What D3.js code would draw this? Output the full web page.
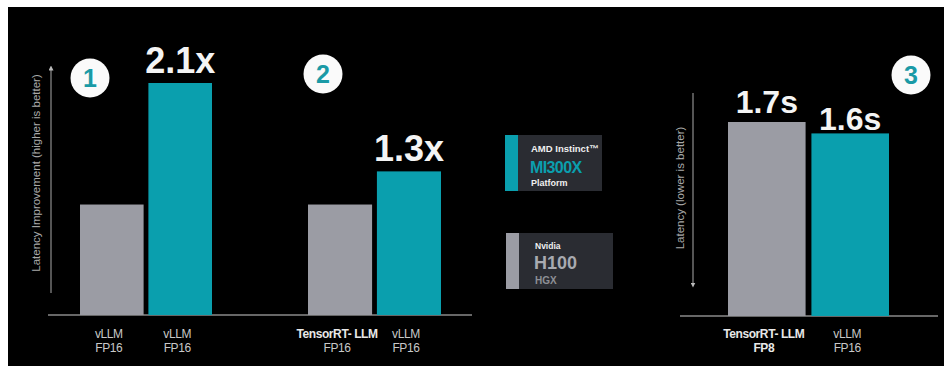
<!DOCTYPE html>
<html>
<head>
<meta charset="utf-8">
<script src="https://cdn.jsdelivr.net/npm/d3@7"></script>
<style>
  body { margin: 0; background: #fff; }
  text { font-family: "Liberation Sans", Arial, sans-serif; }
</style>
</head>
<body>
<div id="chart"></div>
<script>
// values
const p1Names = [["vLLM", "FP16"], ["vLLM", "FP16"]];
const p1Platform = ["H100", "MI300X"];
const p1Values = [1.0, 2.1];
const p1Text = ["", "2.1x"];

const p2Names = [["TensorRT- LLM", "FP16"], ["vLLM", "FP16"]];
const p2Platform = ["H100", "MI300X"];
const p2Values = [1.0, 1.3];
const p2Text = ["", "1.3x"];

const p3Names = [["TensorRT- LLM", "FP8"], ["vLLM", "FP16"]];
const p3Platform = ["H100", "MI300X"];
const p3Values = [1.7, 1.6];
const p3Text = ["1.7s", "1.6s"];

const width = 944, height = 366;
const teal = "#0a9fae", gray = "#9b9ca4", labelCol = "#c8c8c8";

const color = d3.scaleOrdinal().domain(["H100", "MI300X"]).range([gray, teal]);

const svg = d3.select("#chart").append("svg")
    .attr("width", width)
    .attr("height", height);

// black slide area
svg.append("rect")
    .attr("x", 8).attr("y", 7)
    .attr("width", width - 8).attr("height", height - 7)
    .attr("fill", "#000");

// y scales: panels 1 & 2 share one, panel 3 has its own
const yImp = d3.scaleLinear().domain([0, 2.1]).range([315, 83]);
const yLat = d3.scaleLinear().domain([0, 1.7]).range([316, 122]);

const panels = [
  {names: p1Names, plat: p1Platform, vals: p1Values, txt: p1Text, y: yImp, range: [80, 212], bold: [[false, false], [false, false]], dy: [10, 10]},
  {names: p2Names, plat: p2Platform, vals: p2Values, txt: p2Text, y: yImp, range: [308, 441], bold: [[true, false], [false, false]], dy: [10, 10]},
  {names: p3Names, plat: p3Platform, vals: p3Values, txt: p3Text, y: yLat, range: [728, 889], bold: [[true, true], [false, false]], dy: [9, 3]}
];

// baselines
svg.append("line")
    .attr("x1", 48).attr("x2", 472)
    .attr("y1", yImp(0)).attr("y2", yImp(0))
    .attr("stroke", "#8a8a8a").attr("stroke-width", 1.5);
svg.append("line")
    .attr("x1", 680).attr("x2", 938)
    .attr("y1", yLat(0)).attr("y2", yLat(0))
    .attr("stroke", "#8a8a8a").attr("stroke-width", 1.5);

panels.forEach(p => {
  const idx = d3.range(p.vals.length);
  const x = d3.scaleBand().domain(idx).range(p.range).paddingInner(0.07);
  const g = svg.append("g");

  g.selectAll("rect.bar")
    .data(idx)
    .join("rect")
      .attr("class", "bar")
      .attr("x", i => x(i))
      .attr("width", x.bandwidth())
      .attr("y", i => p.y(p.vals[i]))
      .attr("height", i => p.y(0) - p.y(p.vals[i]))
      .attr("fill", i => color(p.plat[i]));

  // value labels on top
  g.selectAll("text.val")
    .data(idx.filter(i => p.txt[i] !== ""))
    .join("text")
      .attr("class", "val")
      .attr("x", i => x(i) + x.bandwidth() / 2)
      .attr("y", i => p.y(p.vals[i]) - p.dy[i])
      .attr("text-anchor", "middle")
      .attr("font-size", p.y === yLat ? 32 : 36)
      .attr("font-weight", "bold")
      .attr("fill", "#f4f4f4")
      .text(i => p.txt[i]);

  // two-line category labels under each bar
  idx.forEach(i => {
    const t = g.append("text")
        .attr("x", x(i) + x.bandwidth() / 2 - 3)
        .attr("text-anchor", "middle")
        .attr("font-size", 12)
        .attr("letter-spacing", -0.4)
        .attr("fill", labelCol);
    p.names[i].forEach((line, k) => {
      t.append("tspan")
        .attr("x", x(i) + x.bandwidth() / 2 - 3)
        .attr("y", 338 + k * 14)
        .attr("font-weight", p.bold[i][k] ? "bold" : "normal")
        .attr("fill", p.bold[i][k] ? "#e8e8e8" : labelCol)
        .text(line);
    });
  });
});

// axis arrows
const defs = svg.append("defs");
defs.append("marker")
    .attr("id", "arr")
    .attr("viewBox", "0 0 10 10")
    .attr("refX", 5).attr("refY", 5)
    .attr("markerWidth", 5).attr("markerHeight", 5)
    .attr("orient", "auto-start-reverse")
  .append("path")
    .attr("d", "M0,0 L10,5 L0,10 z")
    .attr("fill", "#bbb");

svg.append("line")
    .attr("x1", 51).attr("x2", 51)
    .attr("y1", 293).attr("y2", 68)
    .attr("stroke", "#aaa").attr("stroke-width", 1)
    .attr("marker-end", "url(#arr)");
svg.append("line")
    .attr("x1", 693).attr("x2", 693)
    .attr("y1", 93).attr("y2", 285)
    .attr("stroke", "#aaa").attr("stroke-width", 1)
    .attr("marker-end", "url(#arr)");

svg.append("text")
    .attr("transform", "translate(40,173) rotate(-90)")
    .attr("text-anchor", "middle")
    .attr("font-size", 11.5)
    .attr("fill", "#a8a8a8")
    .text("Latency Improvement (higher is better)");
svg.append("text")
    .attr("transform", "translate(684,188) rotate(-90)")
    .attr("text-anchor", "middle")
    .attr("font-size", 11.5)
    .attr("fill", "#a8a8a8")
    .text("Latency (lower is better)");

// numbered circles
const badges = [{n: "1", cx: 90, cy: 78}, {n: "2", cx: 323, cy: 74}, {n: "3", cx: 911, cy: 75}];
const bg = svg.selectAll("g.badge").data(badges).join("g").attr("class", "badge");
bg.append("circle")
    .attr("cx", d => d.cx).attr("cy", d => d.cy).attr("r", 19.5)
    .attr("fill", "#fafafa");
bg.append("text")
    .attr("x", d => d.cx).attr("y", d => d.cy + 9)
    .attr("text-anchor", "middle")
    .attr("font-size", 25)
    .attr("font-weight", "bold")
    .attr("fill", "#1a9aa6")
    .text(d => d.n);

// legend cards
const amd = svg.append("g");
amd.append("rect").attr("x", 505).attr("y", 135).attr("width", 97).attr("height", 56).attr("fill", "#2a2c32");
amd.append("rect").attr("x", 505).attr("y", 135).attr("width", 13).attr("height", 56).attr("fill", teal);
amd.append("text").attr("x", 531).attr("y", 152).attr("font-size", 9.5).attr("font-weight", "bold").attr("fill", "#f0f0f0").text("AMD Instinct™");
amd.append("text").attr("x", 530).attr("y", 173).attr("font-size", 16).attr("font-weight", "bold").attr("letter-spacing", -0.6).attr("fill", teal).text("MI300X");
amd.append("text").attr("x", 531).attr("y", 186).attr("font-size", 9).attr("font-weight", "bold").attr("fill", "#f0f0f0").text("Platform");

const nv = svg.append("g");
nv.append("rect").attr("x", 506).attr("y", 233).attr("width", 107).attr("height", 56).attr("fill", "#2a2c32");
nv.append("rect").attr("x", 506).attr("y", 233).attr("width", 13).attr("height", 56).attr("fill", gray);
nv.append("text").attr("x", 535).attr("y", 249).attr("font-size", 8.5).attr("font-weight", "bold").attr("fill", "#f0f0f0").text("Nvidia");
nv.append("text").attr("x", 534).attr("y", 269).attr("font-size", 18).attr("font-weight", "bold").attr("fill", "#a8aab0").text("H100");
nv.append("text").attr("x", 535).attr("y", 284).attr("font-size", 10).attr("font-weight", "bold").attr("fill", "#8e9096").text("HGX");
</script>
</body>
</html>
